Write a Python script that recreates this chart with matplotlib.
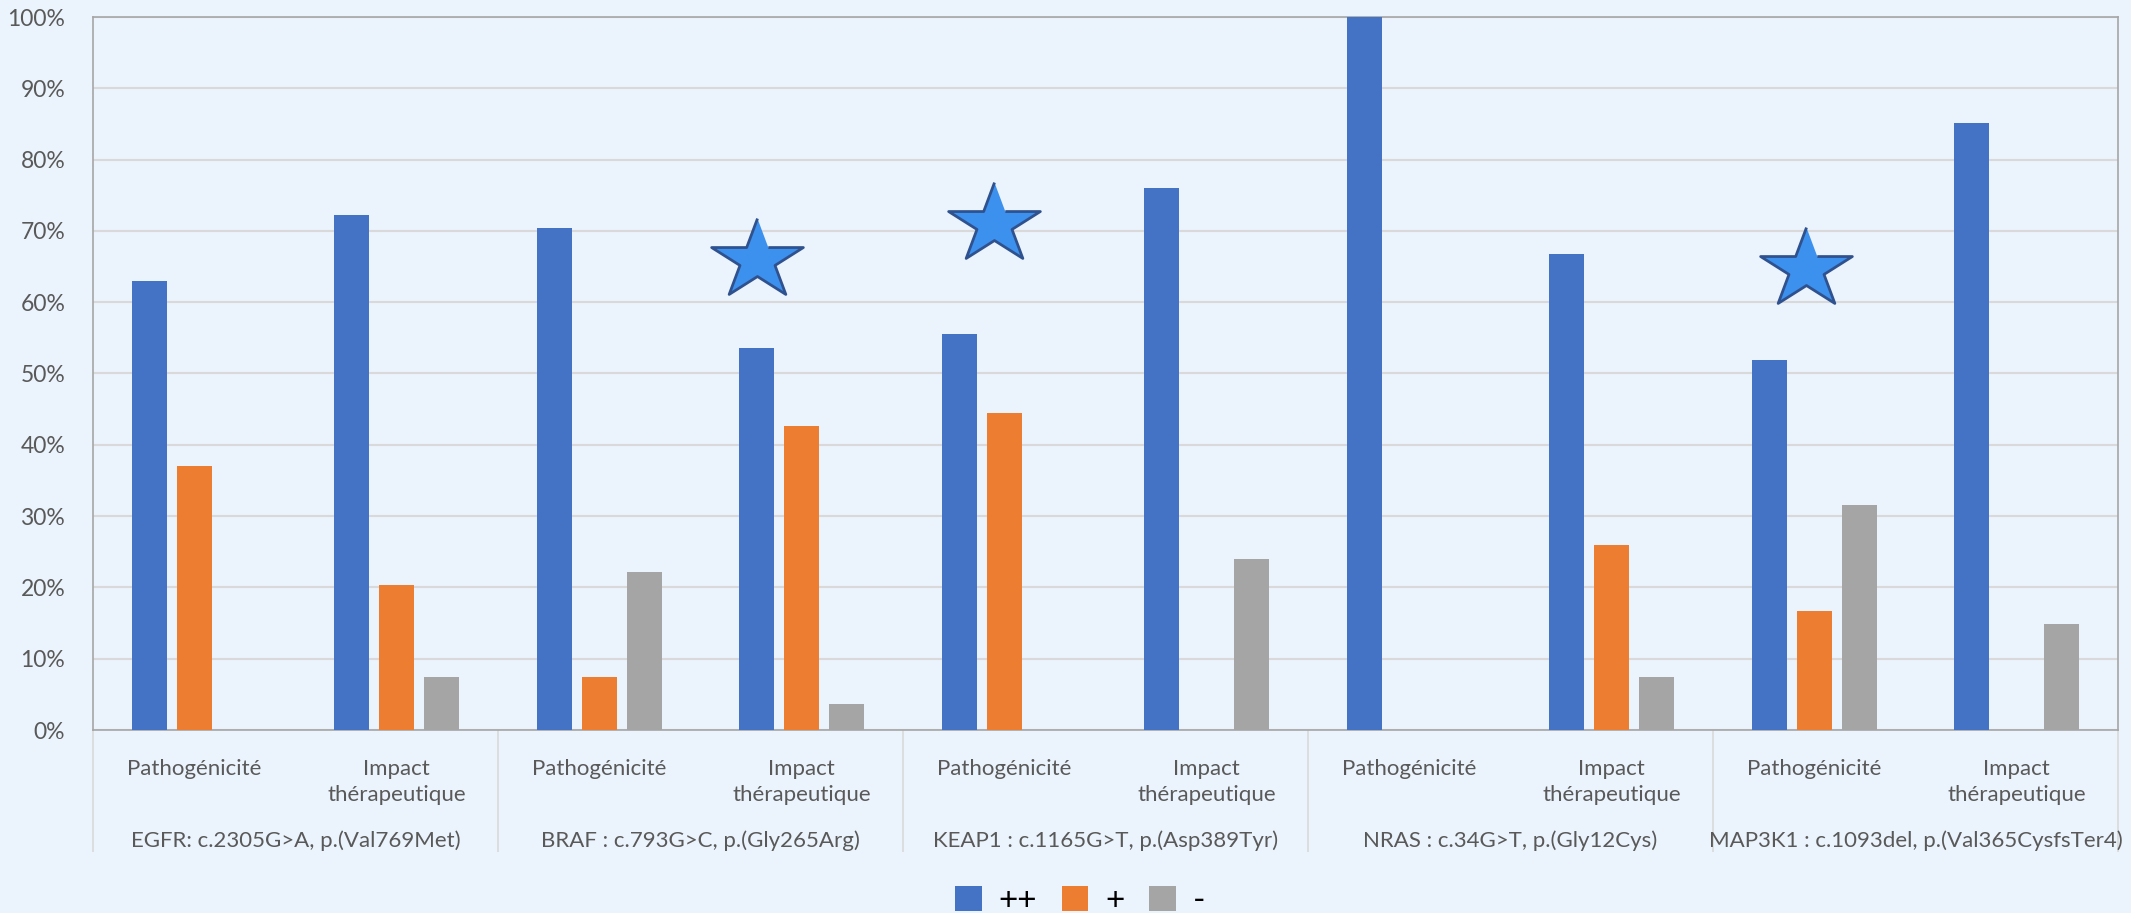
import matplotlib
matplotlib.use("Agg")
import matplotlib.pyplot as plt
import numpy as np
from matplotlib.patches import Patch

plt.rcParams['font.family'] = ['Lato', 'DejaVu Sans']

variants = ["EGFR: c.2305G>A, p.(Val769Met)",
            "BRAF : c.793G>C, p.(Gly265Arg)",
            "KEAP1 : c.1165G>T, p.(Asp389Tyr)",
            "NRAS : c.34G>T, p.(Gly12Cys)",
            "MAP3K1 : c.1093del, p.(Val365CysfsTer4)"]
subcats = ["Pathogénicité", "Impact\nthérapeutique"]
series_names = ["++", "+", "-"]

s_pp = [63.0, 72.2, 70.4, 53.6, 55.6, 76.0, 100.0, 66.7, 51.9, 85.2]
s_p = [37.0, 20.4, 7.4, 42.6, 44.4, 0.0, 0.0, 25.9, 16.7, 0.0]
s_m = [0.0, 7.4, 22.2, 3.7, 0.0, 24.0, 0.0, 7.4, 31.5, 14.8]

# stars: (x in category units, y in %)
star_x = [2.78, 3.95, 7.96]
star_y = [65.9, 70.9, 64.6]

colors = ["#4472C4", "#ED7D31", "#A5A5A5"]
bg = "#EBF3FC"

W, H = 2131, 913
fig = plt.figure(figsize=(W / 100, H / 100), dpi=100, facecolor=bg)
ax = fig.add_axes([93 / W, (H - 730) / H, (2118 - 93) / W, (730 - 17) / H])
ax.set_facecolor(bg)

x = np.arange(len(s_pp))
off = 0.222
bw = 0.172
for i, (vals, c) in enumerate(zip([s_pp, s_p, s_m], colors)):
    ax.bar(x + (i - 1) * off, vals, width=bw, color=c, zorder=3)

ax.set_xlim(-0.5, len(s_pp) - 0.5)
ax.set_ylim(0, 100)
ax.set_yticks(np.arange(0, 101, 10))
ax.set_yticklabels([f"{v}%" for v in range(0, 101, 10)])
ax.yaxis.grid(True, color="#D9D9D9", linewidth=1.5, zorder=0)
ax.tick_params(axis='y', length=0, labelsize=16.5, labelcolor="#595959", pad=20)
for sp in ax.spines.values():
    sp.set_color("#A6A6A6")
    sp.set_linewidth(1.2)

# first-level x labels
ax.set_xticks(x)
ax.set_xticklabels([subcats[i % 2] for i in x], fontsize=16, color="#595959",
                   linespacing=1.35, va='top')
ax.tick_params(axis='x', which='major', length=0, pad=21)
# separators
ax.set_xticks(np.arange(-0.5, len(s_pp), 2), minor=True)
ax.tick_params(axis='x', which='minor', length=88, width=1.2, color="#D9D9D9")

# variant labels
trans = ax.get_xaxis_transform()
for k, v in enumerate(variants):
    ax.text(2 * k + 0.5, -(841 - 730) / (730 - 17), v, transform=trans,
            ha='center', va='center', fontsize=16, color="#595959")

# stars
ang = np.deg2rad(90 + np.arange(10) * 36)
rad = np.where(np.arange(10) % 2 == 0, 1.0, 0.382)
verts = np.column_stack([rad * np.cos(ang), rad * np.sin(ang) * 0.87])
ax.scatter(star_x, star_y, marker=verts, s=66 ** 2, color="#3D91EE",
           edgecolors="#2F528F", linewidths=2, zorder=5, clip_on=False)

handles = [Patch(facecolor=c, edgecolor='none') for c in colors]
fig.legend(handles, series_names, loc='center', bbox_to_anchor=(1080 / W, (H - 901) / H),
           ncol=3, frameon=False, fontsize=24, handlelength=0.8, handleheight=0.8,
           handletextpad=0.5, columnspacing=0.75, borderpad=0, labelcolor="#000000")

fig.savefig("out.png", dpi=100, facecolor=bg)
